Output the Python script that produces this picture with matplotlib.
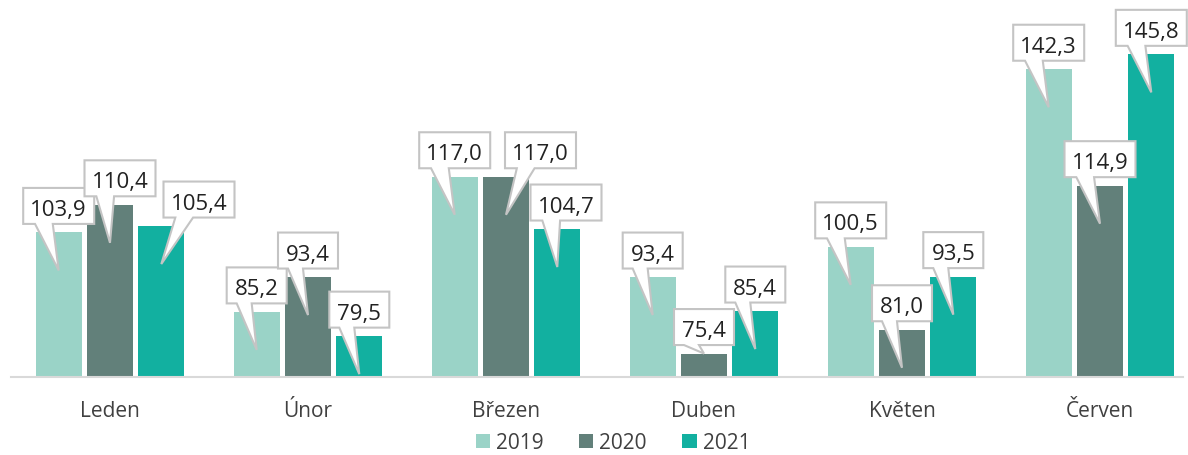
import matplotlib
matplotlib.use("Agg")
import matplotlib.pyplot as plt
import matplotlib.transforms as mtransforms
from matplotlib.patches import Polygon
import numpy as np

plt.rcParams['font.family'] = ['Open Sans', 'DejaVu Sans']

# ---- data ----
categories = ["Leden", "Únor", "Březen", "Duben", "Květen", "Červen"]
series_names = ["2019", "2020", "2021"]
values_2019 = [103.9, 85.2, 117.0, 93.4, 100.5, 142.3]
values_2020 = [110.4, 93.4, 117.0, 75.4, 81.0, 114.9]
values_2021 = [105.4, 79.5, 104.7, 85.4, 93.5, 145.8]

# ---- style / layout ----
colors = ["#9AD3C7", "#62807A", "#12B0A0"]
# horizontal offset (px) of each label box from its bar centre
box_dx = [
    [0, 0, 0, 0, 0, 0],
    [10, 0, 34.5, 0, 0, 0],
    [37.7, 0, 8.7, 0, 0, 0],
]
W, H, DPI = 1188, 456, 100
fig = plt.figure(figsize=(W / DPI, H / DPI), dpi=DPI)
px_per_unit = 4.25
ymin, ymax = 70, 150
ax_left, ax_right = 11, 1183
base_y = 377.5
ax = fig.add_axes([ax_left / W, (H - base_y) / H, (ax_right - ax_left) / W,
                   (ymax - ymin) * px_per_unit / H])
x = np.arange(len(categories))
step = 198.0
ax.set_xlim(-0.5, -0.5 + (ax_right - ax_left) / step)
ax.set_ylim(ymin, ymax)

bar_w = 46 / step
offs = 51.3 / step
all_vals = [values_2019, values_2020, values_2021]
for i, (vals, c, name) in enumerate(zip(all_vals, colors, series_names)):
    ax.bar(x + (i - 1) * offs, np.array(vals) - ymin, bottom=ymin, width=bar_w,
           color=c, label=name, zorder=2)

for s in ["top", "right", "left"]:
    ax.spines[s].set_visible(False)
ax.spines["bottom"].set_color("#D9D9D9")
ax.spines["bottom"].set_linewidth(1.5)
ax.set_yticks([])
ax.set_xticks(x)
ax.set_xticklabels(categories, fontsize=15, color="#404040")
ax.tick_params(axis="x", length=0, pad=17)

# ---- callouts ----
box_h = 36
box_cy = 26.5  # px above bar top
tip_depth = 38  # px below bar top


def callout(xd, yd, text, dx, tip_dy):
    w = 71 if len(text) >= 5 else 60
    left, right = dx - w / 2, dx + w / 2
    bot, top = box_cy - box_h / 2, box_cy + box_h / 2
    tipx, tipy = 0.0, -tip_dy
    if tipx - dx > 0:
        b1, b2 = left + w * 7 / 12, left + w * 10 / 12
    else:
        b1, b2 = left + w * 2 / 12, left + w * 5 / 12
    verts = [(left, bot), (left, top), (right, top), (right, bot),
             (b2, bot), (tipx, tipy), (b1, bot)]
    verts = [(vx / DPI, vy / DPI) for vx, vy in verts]
    tr = fig.dpi_scale_trans + mtransforms.ScaledTranslation(xd, yd, ax.transData)
    poly = Polygon(verts, closed=True, facecolor="white", edgecolor="#C4C4C4",
                   linewidth=1.5, transform=tr, zorder=5, clip_on=False,
                   joinstyle="miter")
    fig.add_artist(poly)
    fig.text(dx / DPI, (box_cy - 9) / DPI, text, transform=tr, ha="center",
             va="baseline", fontsize=16, color="#222222", zorder=6)


for i, vals in enumerate(all_vals):
    for j, v in enumerate(vals):
        xd = x[j] + (i - 1) * offs
        height_px = (v - ymin) * px_per_unit
        tip_dy = tip_depth if height_px > tip_depth + 1 else 0
        callout(xd, v, f"{v:.1f}".replace(".", ","), box_dx[i][j], tip_dy)

leg = fig.legend(loc="center", bbox_to_anchor=(613 / W, 1 - 444 / H), ncol=3,
                 frameon=False, fontsize=15, handlelength=0.68, handleheight=0.68,
                 handletextpad=0.3, columnspacing=1.7, labelcolor="#404040",
                 borderpad=0.1)

fig.savefig("out.png", dpi=DPI)
